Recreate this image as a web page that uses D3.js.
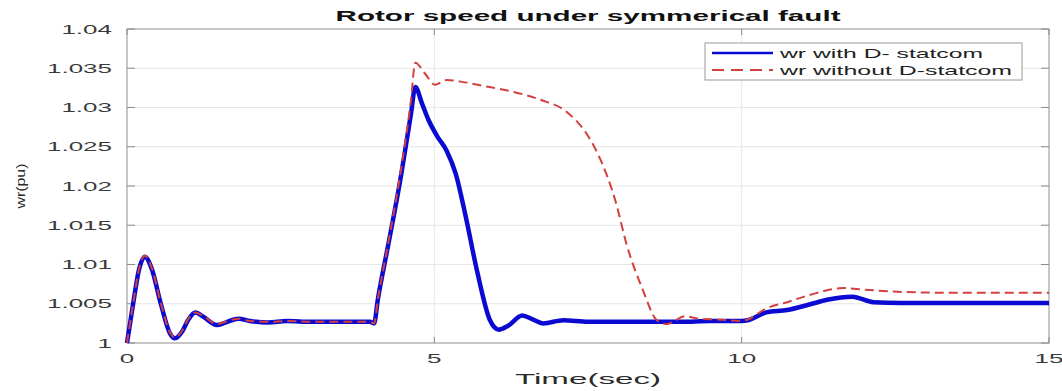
<!DOCTYPE html>
<html>
<head>
<meta charset="utf-8">
<script src="https://cdn.jsdelivr.net/npm/d3@7"></script>
<style>
  html, body { margin: 0; padding: 0; background: #fff; }
  svg { display: block; font-family: "Liberation Sans", Arial, sans-serif; }
</style>
</head>
<body>
<svg id="chart" width="1062" height="391"></svg>
<script>
// ---- data ----
const titleText = "Rotor speed under symmerical fault";
const xLabel = "Time(sec)";
const yLabel = "wr(pu)";
const seriesNames = ["wr with D- statcom", "wr without D-statcom"];
const xTicks = [0, 5, 10, 15];
const xTickLabels = ["0", "5", "10", "15"];
const yTicks = [1, 1.005, 1.01, 1.015, 1.02, 1.025, 1.03, 1.035, 1.04];
const yTickLabels = ["1", "1.005", "1.01", "1.015", "1.02", "1.025", "1.03", "1.035", "1.04"];

const timeWith = [0, 0.1, 0.2, 0.29, 0.4, 0.55, 0.7, 0.78, 0.9, 1.0, 1.11, 1.25, 1.46, 1.6, 1.81, 2.0, 2.3, 2.6, 3.0, 3.5, 3.95, 4.02,
  4.08, 4.25, 4.44, 4.62, 4.69, 4.8, 4.9, 5.05, 5.2, 5.35, 5.5, 5.7, 5.9, 6.05, 6.2, 6.43, 6.6, 6.77, 7.1, 7.5, 8.0, 8.5, 9.0, 9.5, 10.0, 10.1,
  10.4, 10.74, 11.1, 11.39, 11.8, 12.14, 12.6, 13.5, 15];
const wrWith = [1.0, 1.005, 1.0095, 1.011, 1.0095, 1.005, 1.0012, 1.0006, 1.0015, 1.003, 1.0039, 1.0033, 1.0023, 1.0026, 1.0031, 1.0028, 1.0026, 1.0028, 1.0027, 1.0027, 1.0027, 1.0025,
  1.0055, 1.0125, 1.0205, 1.0292, 1.0326, 1.0305, 1.0285, 1.0263, 1.0245, 1.0215, 1.0165, 1.009, 1.003, 1.0017, 1.0022, 1.0035, 1.003, 1.0025, 1.0029, 1.0027, 1.0027, 1.0027, 1.0027, 1.0028, 1.0028, 1.0029,
  1.0039, 1.0042, 1.0049, 1.0055, 1.0059, 1.0052, 1.0051, 1.0051, 1.0051];

const timeWithout = [0, 0.1, 0.2, 0.29, 0.4, 0.55, 0.7, 0.78, 0.9, 1.0, 1.11, 1.25, 1.46, 1.6, 1.81, 2.0, 2.3, 2.6, 3.0, 3.5, 3.95, 4.02,
  4.08, 4.25, 4.44, 4.62, 4.69, 4.85, 5.01, 5.2, 5.5, 5.9, 6.28, 6.72, 7.16, 7.53, 7.8, 7.95, 8.13, 8.39, 8.62, 8.78, 8.9, 9.08, 9.3, 9.6, 10.0, 10.1,
  10.4, 10.74, 11.1, 11.65, 12.0, 12.6, 13.5, 15];
const wrWithout = [1.0, 1.005, 1.0096, 1.0111, 1.0096, 1.0051, 1.0013, 1.0007, 1.0016, 1.0031, 1.0039, 1.0034, 1.0024, 1.0027, 1.0031, 1.0028, 1.0027, 1.0028, 1.0027, 1.0027, 1.0027, 1.0025,
  1.0055, 1.0127, 1.0212, 1.031, 1.0357, 1.0343, 1.0329, 1.0335, 1.0332, 1.0326, 1.032, 1.031, 1.0294, 1.026, 1.0215, 1.018, 1.0125, 1.0068, 1.0029, 1.0024, 1.0028, 1.0034, 1.0031, 1.003, 1.0028, 1.003,
  1.0044, 1.0052, 1.0061, 1.007, 1.0068, 1.0065, 1.0064, 1.0064];

// ---- layout ----
const svg = d3.select("#chart");
const L = 127, R = 1049, T = 29, B = 343;
const x = d3.scaleLinear().domain([0, 15]).range([L, R]);
const y = d3.scaleLinear().domain([1, 1.04]).range([B, T]);
const SX = 2.0; // horizontal stretch of the reference text

// grid
const grid = svg.append("g").attr("stroke", "#e6e6e6").attr("stroke-width", 1);
grid.selectAll("line.gx").data(xTicks).join("line")
  .attr("x1", d => x(d)).attr("x2", d => x(d)).attr("y1", T).attr("y2", B);
grid.selectAll("line.gy").data(yTicks).join("line")
  .attr("x1", L).attr("x2", R).attr("y1", d => y(d)).attr("y2", d => y(d));

// box
svg.append("rect").attr("x", L).attr("y", T).attr("width", R - L).attr("height", B - T)
  .attr("fill", "none").attr("stroke", "#9a9a9a").attr("stroke-width", 1);

// inward ticks on all sides
const tk = svg.append("g").attr("stroke", "#8a8a8a").attr("stroke-width", 1);
xTicks.forEach(d => {
  tk.append("line").attr("x1", x(d)).attr("x2", x(d)).attr("y1", B).attr("y2", B - 6);
  tk.append("line").attr("x1", x(d)).attr("x2", x(d)).attr("y1", T).attr("y2", T + 6);
});
yTicks.forEach(d => {
  tk.append("line").attr("x1", L).attr("x2", L + 8).attr("y1", y(d)).attr("y2", y(d));
  tk.append("line").attr("x1", R).attr("x2", R - 8).attr("y1", y(d)).attr("y2", y(d));
});

// tick labels
const lab = svg.append("g").attr("fill", "#3a3a3a").attr("font-size", 13);
xTicks.forEach((d, i) => {
  lab.append("text").attr("transform", `translate(${x(d)},363) scale(${SX},1)`)
    .attr("text-anchor", "middle").text(xTickLabels[i]);
});
yTicks.forEach((d, i) => {
  lab.append("text").attr("transform", `translate(112,${y(d) + 4.5}) scale(${SX},1)`)
    .attr("text-anchor", "end").text(yTickLabels[i]);
});

// axis labels
svg.append("text").attr("x", x(7.5)).attr("y", 384).attr("text-anchor", "middle")
  .attr("font-size", 14).attr("fill", "#2a2a2a")
  .attr("textLength", 146).attr("lengthAdjust", "spacingAndGlyphs").text(xLabel);
svg.append("text").attr("transform", `translate(25,${(T + B) / 2}) rotate(-90)`)
  .attr("text-anchor", "middle").attr("font-size", 13).attr("fill", "#2a2a2a")
  .attr("textLength", 45).attr("lengthAdjust", "spacingAndGlyphs").text(yLabel);

// title
svg.append("text").attr("x", 588).attr("y", 21).attr("text-anchor", "middle")
  .attr("font-size", 14).attr("font-weight", "bold").attr("fill", "#111")
  .attr("textLength", 505).attr("lengthAdjust", "spacingAndGlyphs").text(titleText);

// lines
const line = d3.line().x(d => x(d[0])).y(d => y(d[1])).curve(d3.curveMonotoneX);
const dWith = timeWith.map((t, i) => [t, wrWith[i]]);
const dWithout = timeWithout.map((t, i) => [t, wrWithout[i]]);

svg.append("path").datum(dWith).attr("d", line).attr("fill", "none")
  .attr("stroke", "#0a0ad2").attr("stroke-width", 4.5).attr("stroke-linejoin", "round");
svg.append("path").datum(dWithout).attr("d", line).attr("fill", "none")
  .attr("stroke", "#d2403f").attr("stroke-width", 2).attr("stroke-dasharray", "9,5");

// legend
const lg = svg.append("g");
lg.append("rect").attr("x", 705).attr("y", 43).attr("width", 317).attr("height", 37)
  .attr("fill", "#fff").attr("stroke", "#9a9a9a").attr("stroke-width", 1);
lg.append("line").attr("x1", 712).attr("x2", 773).attr("y1", 53).attr("y2", 53)
  .attr("stroke", "#0a0ad2").attr("stroke-width", 2.5);
lg.append("line").attr("x1", 712).attr("x2", 773).attr("y1", 70).attr("y2", 70)
  .attr("stroke", "#d2403f").attr("stroke-width", 2).attr("stroke-dasharray", "12,7");
lg.append("text").attr("x", 780).attr("y", 58).attr("font-size", 13).attr("fill", "#222")
  .attr("textLength", 203).attr("lengthAdjust", "spacingAndGlyphs").text(seriesNames[0]);
lg.append("text").attr("x", 780).attr("y", 75).attr("font-size", 13).attr("fill", "#222")
  .attr("textLength", 232).attr("lengthAdjust", "spacingAndGlyphs").text(seriesNames[1]);
</script>
</body>
</html>
